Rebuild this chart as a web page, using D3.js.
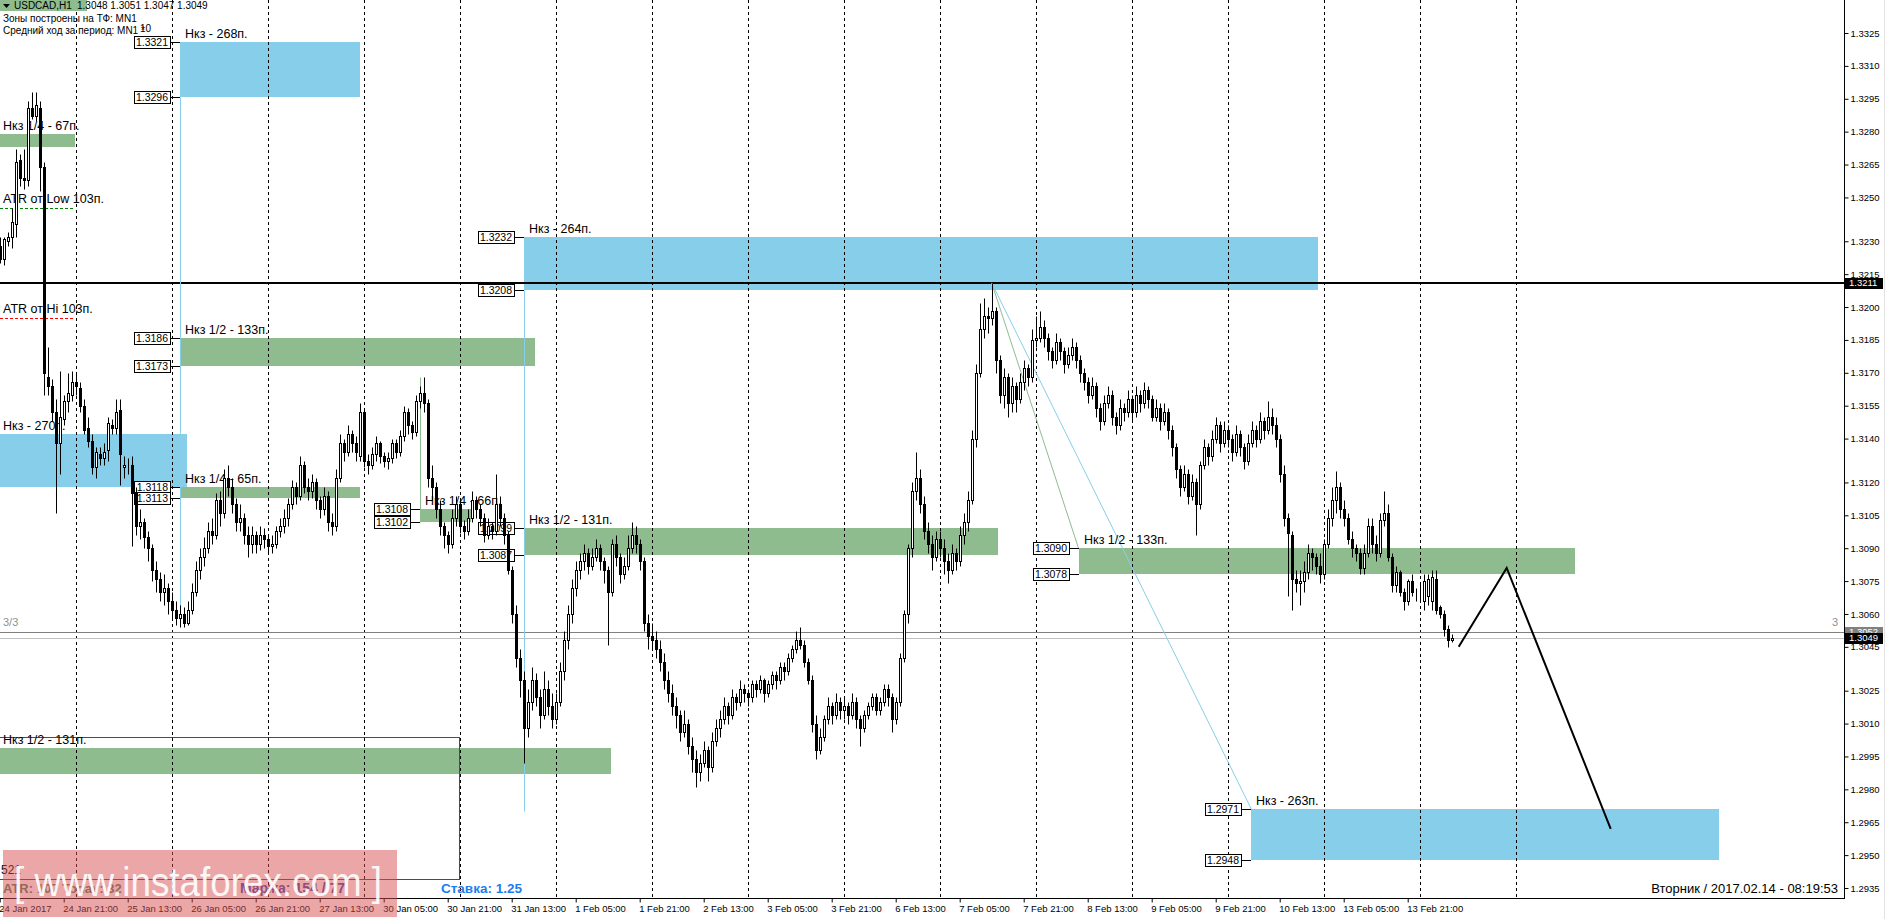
<!DOCTYPE html>
<html><head><meta charset="utf-8">
<script src="https://cdn.jsdelivr.net/npm/d3@7"></script>
<style>
html,body{margin:0;padding:0;background:#fff;overflow:hidden;}
svg{display:block;}
text{font-family:"Liberation Sans",Arial,sans-serif;}
</style></head><body>
<svg id="chart" width="1886" height="919"></svg>
<script>
// ---------------- DATA ----------------
// hourly bars, index = trading hour counted from 24 Jan 2017 00:00 (weekends skipped)
const firstBar = 5;
// prices in pips above 1.3000 (price = 1.3 + pips/10000)
const openPips = [
 228,222,230,232,238,267,259,258,291,287,291,264,168,164,152,138,149,157,160,
 166,163,155,145,139,127,133,131,135,146,145,153,127,128,128,115,100,102,95,90,80,76,70,72,
 66,62,58,60,56,62,70,80,86,90,98,96,112,106,122,118,110,102,104,96,92,96,92,96,
 94,91,92,98,100,104,110,118,114,128,118,116,120,112,108,114,102,100,122,138,134,142,138,132,
 152,130,128,133,138,132,130,131,138,134,141,152,146,143,157,161,156,122,118,108,100,96,92,104,
 110,100,98,104,112,108,104,96,100,98,110,104,96,80,60,40,30,8,20,30,22,14,26,18,
 12,20,34,48,60,72,80,84,88,82,86,90,84,80,70,92,86,78,82,90,96,92,84,56,
 50,48,44,38,30,24,18,14,6,10,0,-6,-12,-8,-2,-10,2,8,12,18,14,22,20,26,
 24,22,28,26,30,24,28,32,30,36,34,40,44,48,46,38,30,10,-2,4,12,18,14,20,
 16,18,14,20,12,8,14,18,22,16,20,26,22,12,20,40,60,90,116,122,110,98,92,86,
 94,90,84,80,88,84,96,102,112,140,170,190,196,195,198,176,160,168,156,164,158,166,172,168,
 185,186,191,186,180,176,184,180,174,178,182,176,170,166,160,164,154,148,156,160,150,146,154,152,
 158,152,160,156,162,158,150,154,148,152,144,136,126,118,124,114,120,110,128,136,132,140,146,138,
 144,140,134,142,136,130,138,144,140,148,144,150,146,140,124,104,96,76,74,75,79,88,86,82,
 78,92,104,112,118,108,104,94,90,88,81,88,100,92,88,103,106,86,73,79,70,66,75,70,
 70,66,68,66,76,63,60,53,48];
const highPips = [
 232,232,234,245,272,270,272,294,298,298,294,266,182,167,158,171,160,170,171,
 170,166,158,150,142,136,136,138,150,149,158,158,132,131,132,118,108,104,98,92,84,79,78,74,
 70,66,64,63,66,74,84,90,95,102,104,115,116,126,128,122,113,110,106,100,100,98,100,99,
 96,96,100,104,108,113,121,120,132,130,122,124,122,114,118,116,106,126,142,140,146,144,141,156,
 154,133,136,141,139,134,134,140,140,144,155,154,148,160,164,168,158,128,120,112,102,98,108,114,
 112,103,108,116,114,110,106,104,102,124,114,106,98,82,64,44,34,26,36,33,26,34,30,24,
 24,38,52,64,76,84,88,92,90,90,94,92,86,82,94,96,88,86,96,102,100,94,86,60,
 56,52,48,42,34,28,22,16,16,12,4,-2,-4,2,0,6,12,16,22,20,26,24,30,28,
 26,30,30,32,31,30,34,34,38,38,42,46,52,54,48,40,32,14,8,14,22,20,24,22,
 22,20,24,22,14,16,20,24,24,22,28,28,24,22,42,62,92,120,134,126,114,102,96,98,
 98,94,88,92,90,100,106,116,144,174,202,204,200,211,200,178,172,170,168,166,170,176,174,190,
 196,198,194,188,182,188,186,182,182,186,184,178,172,168,168,166,156,160,164,162,152,158,156,162,
 160,164,162,166,164,160,158,156,156,154,146,138,128,128,126,124,122,130,140,138,144,150,148,148,
 146,142,146,144,138,142,148,146,152,150,157,154,150,142,128,106,98,80,80,84,92,90,88,88,
 94,108,118,125,120,112,106,98,92,90,92,104,104,96,106,116,110,88,82,80,72,76,78,72,
 74,78,78,80,80,64,62,55,51];
const lowPips = [
 220,219,228,227,232,255,254,255,286,285,253,160,160,148,106,124,146,152,157,
 160,152,142,136,124,122,128,128,130,142,142,119,122,124,91,96,94,90,84,75,70,66,64,60,
 58,55,54,54,55,60,68,76,82,88,92,94,100,104,114,106,98,98,92,86,88,88,89,90,
 88,88,90,95,97,100,108,110,112,115,112,113,108,104,105,98,96,98,120,130,132,134,130,130,
 127,124,126,130,129,127,126,129,131,132,139,142,140,141,154,152,118,112,104,96,90,88,90,100,
 97,94,96,102,104,100,93,94,94,96,100,92,78,56,36,22,-8,4,16,18,8,12,14,8,
 10,18,30,44,56,68,76,80,78,80,84,80,74,46,68,82,74,76,80,88,88,80,52,44,
 44,40,34,26,20,14,8,2,4,-4,-12,-19,-16,-10,-16,-12,0,4,10,10,12,16,18,20,
 18,20,22,24,20,22,26,26,28,30,32,38,42,44,36,28,6,-6,-4,2,10,10,12,12,
 12,10,12,8,0,6,12,16,14,14,18,18,6,10,18,38,56,86,112,106,94,88,80,84,
 86,78,74,78,80,82,92,98,110,136,168,186,188,192,170,156,154,150,152,152,156,162,164,166,
 182,184,182,176,172,174,176,170,172,176,172,166,162,156,158,150,144,146,154,146,142,144,148,150,
 148,150,152,154,154,148,148,144,146,140,132,122,114,116,110,112,96,108,126,128,130,138,134,136,
 136,130,132,132,126,128,136,136,138,140,142,142,136,120,100,68,62,70,64,70,76,80,78,74,
 76,90,100,106,104,100,92,86,84,78,78,86,88,84,86,100,84,70,70,68,62,64,68,66,
 66,62,64,62,60,58,50,45,47];
const closePips = [
 222,231,232,239,266,259,258,291,287,292,264,170,164,152,138,150,157,161,166,
 164,155,144,139,127,134,131,134,147,145,152,133,128,128,115,100,102,95,90,80,76,70,72,66,
 62,58,60,56,62,70,80,86,90,98,96,112,106,122,118,110,102,104,96,92,96,92,96,94,
 91,92,98,100,104,110,118,114,128,118,116,120,112,108,114,102,100,122,138,134,142,138,134,152,
 130,128,133,138,132,130,131,138,134,141,152,146,143,157,161,156,122,118,108,100,96,92,104,110,
 100,98,104,112,108,104,96,100,98,110,104,96,80,60,40,30,8,20,30,22,14,26,18,12,
 20,34,48,60,72,80,84,88,82,86,90,84,80,70,92,86,78,82,90,96,92,84,56,50,
 48,44,38,30,24,18,14,6,10,0,-6,-12,-8,-2,-10,2,8,12,18,14,22,20,26,24,
 22,28,26,30,24,28,32,30,36,34,40,44,48,46,38,30,10,-2,4,12,18,14,20,16,
 18,14,20,12,8,14,18,22,16,20,26,22,12,20,40,60,90,116,122,110,98,92,86,94,
 90,84,80,88,84,96,102,112,140,170,190,196,195,198,176,160,168,156,164,158,166,172,168,185,
 186,191,186,180,176,184,180,174,178,182,176,170,166,160,164,154,148,156,160,150,146,154,152,158,
 152,160,156,162,158,150,154,148,152,144,136,126,118,124,114,120,110,128,136,132,140,146,138,144,
 140,134,142,136,130,138,144,140,148,144,150,146,140,124,104,97,76,74,75,79,88,86,82,78,
 92,104,112,118,108,104,94,90,88,81,88,100,92,88,103,106,86,73,79,70,66,75,70,70,
 70,75,76,77,62,60,53,48,49];

const priceTicks = [1.3325,1.3310,1.3295,1.3280,1.3265,1.3250,1.3230,1.3215,1.3200,1.3185,1.3170,1.3155,1.3140,
  1.3120,1.3105,1.3090,1.3075,1.3060,1.3045,1.3025,1.3010,1.2995,1.2980,1.2965,1.2950,1.2935];
const timeTickBars = [5,21,37,53,69,85,101,117,133,149,165,181,197,213,229,245,261,277,293,309,325,341,357];
const timeTickLabels = ["24 Jan 2017","24 Jan 21:00","25 Jan 13:00","26 Jan 05:00","26 Jan 21:00","27 Jan 13:00",
  "30 Jan 05:00","30 Jan 21:00","31 Jan 13:00","1 Feb 05:00","1 Feb 21:00","2 Feb 13:00","3 Feb 05:00",
  "3 Feb 21:00","6 Feb 13:00","7 Feb 05:00","7 Feb 21:00","8 Feb 13:00","9 Feb 05:00","9 Feb 21:00",
  "10 Feb 13:00","13 Feb 05:00","13 Feb 21:00"];
const daySeparators = [24,48,72,96,120,144,168,192,216,240,264,288,312,336,360,384];

// zones
const zoneLabels = ["Нкз - 268п.","Нкз 1/4 - 67п.","Нкз - 264п.","Нкз 1/2 - 133п.","Нкз - 270п.","Нкз 1/4 - 65п.",
  "Нкз 1/4 - 66п.","Нкз 1/2 - 131п.","Нкз 1/2 - 133п.","Нкз 1/2 - 131п.","Нкз - 263п."];
const zoneHigh = [1.3321,1.3279,1.3232,1.3186,1.3142,1.3118,1.3108,1.3099,1.3090,1.2999,1.2971];
const zoneLow  = [1.3296,1.3273,1.3208,1.3173,1.3118,1.3113,1.3102,1.3087,1.3078,1.2987,1.2948];
const zoneFrom = [50,4,136,50,4,50,110,136,274.7,4,317.9];
const zoneTo   = [95,23.8,334.6,138.8,51.8,95,122.8,254.6,398.8,157.8,434.8];
const zoneTagged = [true,false,true,true,false,true,true,true,true,false,true];

const atrLabels = ["ATR от Low 103п.","ATR от Hi 103п."];
const atrLevels = [1.3245,1.3195];
const atrEnd = 23.8;

const levelPrice = 1.3211;            // horizontal level
const askPrice = 1.3052, bidPrice = 1.3049;
const boxFrom = 4, boxTo = 119.9, boxHigh = 1.3004, boxLow = 1.2939; // red frame

const peak = {h:253, p:1.3211};
const diagBlueEnd = {h:317.9, p:1.2971};
const diagGreenEnd = {h:274.7, p:1.3090};
const vLineBars = [50,136,110];
const vLineFrom = [1.3296,1.3208,1.3168];
const vLineTo = [1.3055,1.2970,1.3102];
const vLineKind = ["blue","blue","green"];

const forecastBars = [369.75,381.75,407.75];
const forecastPrices = [1.3045,1.3081,1.2962];

// ---------------- DRAW ----------------
const toPrice = p => 1.3 + p/10000;
const svg = d3.select('#chart');
const plotR = 1844, plotB = 898;
const x = d3.scaleLinear().domain([5,368]).range([-0.3,1451.7]);
const y = d3.scaleLinear().domain([1.3325,1.2935]).range([33,888]);
const X = h => Math.round(x(h)) + 0.5;
const Y = p => Math.round(y(p)) + 0.5;
const BLUE = '#87CEEB', GREEN = '#8FBC8F';

svg.append('rect').attr('width',1886).attr('height',919).attr('fill','#fff');
svg.append('defs').append('clipPath').attr('id','plot').append('rect')
  .attr('x',0).attr('y',0).attr('width',plotR).attr('height',plotB);
const plot = svg.append('g').attr('clip-path','url(#plot)');

const zones = zoneLabels.map((label,i)=>({label,hi:zoneHigh[i],lo:zoneLow[i],from:zoneFrom[i],to:zoneTo[i],
  tagged:zoneTagged[i],half:/1\/[24]/.test(label)}));

plot.selectAll('rect.zone').data(zones).join('rect').attr('class','zone')
  .attr('x',d=>Math.round(x(d.from))).attr('y',d=>Math.round(y(d.hi)))
  .attr('width',d=>Math.round(x(d.to))-Math.round(x(d.from)))
  .attr('height',d=>Math.round(y(d.lo))-Math.round(y(d.hi)))
  .attr('fill',d=>d.half?GREEN:BLUE);

// header green tab
svg.append('rect').attr('x',0).attr('y',0).attr('width',87).attr('height',11).attr('fill',GREEN);

// red frame
plot.append('rect').attr('x',Math.round(x(boxFrom))+0.5).attr('y',Y(boxHigh))
  .attr('width',Math.round(x(boxTo))-Math.round(x(boxFrom))).attr('height',Y(boxLow)-Y(boxHigh))
  .attr('fill','none').attr('stroke','#FF0000');

// ATR dashed lines
plot.selectAll('line.atr').data(atrLevels).join('line')
  .attr('x1',0).attr('x2',Math.round(x(atrEnd))).attr('y1',d=>Y(d)).attr('y2',d=>Y(d))
  .attr('stroke',(d,i)=>i===0?'#008000':'#FF0000').attr('stroke-dasharray','3,2');

// day separators
plot.selectAll('line.sep').data(daySeparators).join('line')
  .attr('x1',d=>X(d)).attr('x2',d=>X(d)).attr('y1',0).attr('y2',plotB)
  .attr('stroke','#000').attr('stroke-dasharray','3,3');

// ask / bid lines
plot.append('line').attr('x1',0).attr('x2',plotR).attr('y1',Y(askPrice)).attr('y2',Y(askPrice)).attr('stroke','#808080');
plot.append('line').attr('x1',0).attr('x2',plotR).attr('y1',Y(bidPrice)).attr('y2',Y(bidPrice)).attr('stroke','#C0C0C0');

// horizontal level
plot.append('line').attr('x1',0).attr('x2',plotR).attr('y1',Math.round(y(levelPrice))).attr('y2',Math.round(y(levelPrice)))
  .attr('stroke','#000').attr('stroke-width',2);

// diagonal & vertical marker lines
plot.append('line').attr('x1',x(peak.h)).attr('y1',y(peak.p)).attr('x2',x(diagBlueEnd.h)).attr('y2',y(diagBlueEnd.p))
  .attr('stroke',BLUE);
plot.append('line').attr('x1',x(peak.h)).attr('y1',y(peak.p)).attr('x2',x(diagGreenEnd.h)).attr('y2',y(diagGreenEnd.p))
  .attr('stroke',GREEN);
plot.selectAll('line.vl').data(vLineBars).join('line')
  .attr('x1',d=>X(d)).attr('x2',d=>X(d)).attr('y1',(d,i)=>Y(vLineFrom[i])).attr('y2',(d,i)=>Y(vLineTo[i]))
  .attr('stroke',(d,i)=>vLineKind[i]==='blue'?BLUE:GREEN);

// zone labels
const lbl = plot.append('g').attr('font-size',12.5).attr('fill','#000');
lbl.selectAll('text').data(zones).join('text')
  .attr('x',d=>Math.max(3,Math.round(x(d.from))+5)).attr('y',d=>Math.round(y(d.hi))-4).text(d=>d.label);
lbl.selectAll('text.atr').data(atrLabels).join('text').attr('class','atr')
  .attr('x',3).attr('y',(d,i)=>Math.round(y(atrLevels[i]))-5).text(d=>d);

// price tags
const tags = [];
zones.filter(z=>z.tagged).forEach(z=>{ tags.push({h:z.from,p:z.hi}); tags.push({h:z.from,p:z.lo}); });
const tg = plot.append('g');
tags.forEach(t=>{
  const left = Math.round(x(t.h));
  const yy = Y(t.p);
  const r = left - 10;
  tg.append('line').attr('x1',r).attr('x2',left).attr('y1',yy).attr('y2',yy).attr('stroke','#000');
  tg.append('rect').attr('x',r-36+0.5).attr('y',yy-6).attr('width',36).attr('height',12)
    .attr('fill','#fff').attr('stroke','#000');
  tg.append('text').attr('x',r-2).attr('y',yy).attr('dy','0.36em').attr('text-anchor','end')
    .attr('font-size',10.5).text(d3.format('.4f')(t.p));
});

// candles
const bars = closePips.map((c,i)=>({h:firstBar+i,o:toPrice(openPips[i]),hi:toPrice(highPips[i]),lo:toPrice(lowPips[i]),c:toPrice(c)}));
const cg = plot.append('g');
cg.selectAll('line').data(bars).join('line')
  .attr('x1',d=>X(d.h)).attr('x2',d=>X(d.h)).attr('y1',d=>Y(d.hi)).attr('y2',d=>Y(d.lo)).attr('stroke','#000');
cg.selectAll('rect').data(bars).join('rect')
  .attr('x',d=>X(d.h)-1).attr('width',2)
  .attr('y',d=>Y(Math.max(d.o,d.c)))
  .attr('height',d=>Math.max(0,Y(Math.min(d.o,d.c))-Y(Math.max(d.o,d.c))))
  .attr('fill',d=>d.c>=d.o?'#fff':'#000').attr('stroke',d=>d.o===d.c?'#808080':'#000');

// forecast path
plot.append('path').datum(forecastBars.map((h,i)=>[x(h),y(forecastPrices[i])]))
  .attr('d',d3.line()).attr('fill','none').attr('stroke','#000').attr('stroke-width',2);

// 3/3 markers
svg.append('text').attr('x',3).attr('y',626).attr('font-size',11).attr('fill','#909090').text('3/3');
svg.append('text').attr('x',1832).attr('y',626).attr('font-size',11).attr('fill','#909090').text('3');

// axes
svg.append('line').attr('x1',plotR+0.5).attr('x2',plotR+0.5).attr('y1',0).attr('y2',plotB+1).attr('stroke','#000');
svg.append('line').attr('x1',0).attr('x2',plotR+1).attr('y1',plotB+0.5).attr('y2',plotB+0.5).attr('stroke','#000');
svg.append('line').attr('x1',1884.5).attr('x2',1884.5).attr('y1',0).attr('y2',919).attr('stroke','#E3E3E3');

const yAxis = svg.append('g').attr('transform',`translate(${plotR+0.5},0)`)
  .call(d3.axisRight(y).tickValues(priceTicks).tickFormat(d3.format('.4f')).tickSize(4).tickPadding(2));
yAxis.select('.domain').remove();
yAxis.attr('font-family','Liberation Sans, Arial, sans-serif').attr('font-size',9.5);

const xAxis = svg.append('g').attr('transform',`translate(0,${plotB+0.5})`)
  .call(d3.axisBottom(x).tickValues(timeTickBars).tickFormat((d,i)=>timeTickLabels[i]).tickSize(4).tickPadding(3));
xAxis.select('.domain').remove();
xAxis.attr('font-family','Liberation Sans, Arial, sans-serif').attr('font-size',9.5);
xAxis.selectAll('text').attr('text-anchor','start').attr('x',-1);

// axis price boxes
function axisBox(p, bg, fg){
  const yy = y(p);
  svg.append('rect').attr('x',1845).attr('y',Math.round(yy)-5).attr('width',38).attr('height',11).attr('fill',bg);
  svg.append('text').attr('x',1849).attr('y',yy).attr('dy','0.36em').attr('font-size',9.5).attr('fill',fg)
    .text(d3.format('.4f')(p));
}
axisBox(levelPrice,'#000','#fff');
axisBox(askPrice,'#808080','#fff');
axisBox(bidPrice,'#000','#fff');

// header
svg.append('path').attr('d','M3,4 L10,4 L6.5,8 Z').attr('fill','#000');
const hdr = svg.append('g').attr('font-size',10).attr('fill','#000');
hdr.append('text').attr('x',14).attr('y',9).text('USDCAD,H1');
hdr.append('text').attr('x',77).attr('y',9).text('1.3048 1.3051 1.3047 1.3049');
hdr.append('text').attr('x',3).attr('y',22).text('Зоны построены на ТФ: MN1');
hdr.append('text').attr('x',3).attr('y',34).text('Средний ход за период: MN1 *');
hdr.append('text').attr('x',140).attr('y',32).text('10');

// bottom info texts
svg.append('text').attr('x',1).attr('y',874).attr('font-size',12).text('521');
svg.append('text').attr('x',3).attr('y',893).attr('font-size',13).attr('font-weight','bold').attr('fill','#55805A').text('ATR: 107 Today: 32');
svg.append('text').attr('x',240).attr('y',893).attr('font-size',14).attr('font-weight','bold').attr('fill','#4848A8').text('Маржа: 154 / 77');
svg.append('text').attr('x',441).attr('y',893).attr('font-size',13.5).attr('font-weight','bold').attr('fill','#1C7CF0').text('Ставка: 1.25');
svg.append('text').attr('x',1838).attr('y',893).attr('font-size',13).attr('text-anchor','end').text('Вторник / 2017.02.14 - 08:19:53');

// watermark
svg.append('rect').attr('x',3).attr('y',850).attr('width',394).attr('height',67).attr('fill','#D85050').attr('opacity',0.5);
svg.append('text').attr('x',14).attr('y',896).attr('font-size',40).attr('font-family','Open Sans, sans-serif')
  .attr('fill','#fff').attr('opacity',0.9).attr('textLength',368).attr('lengthAdjust','spacingAndGlyphs')
  .text('[ www.instaforex.com ]');
</script>
</body></html>
